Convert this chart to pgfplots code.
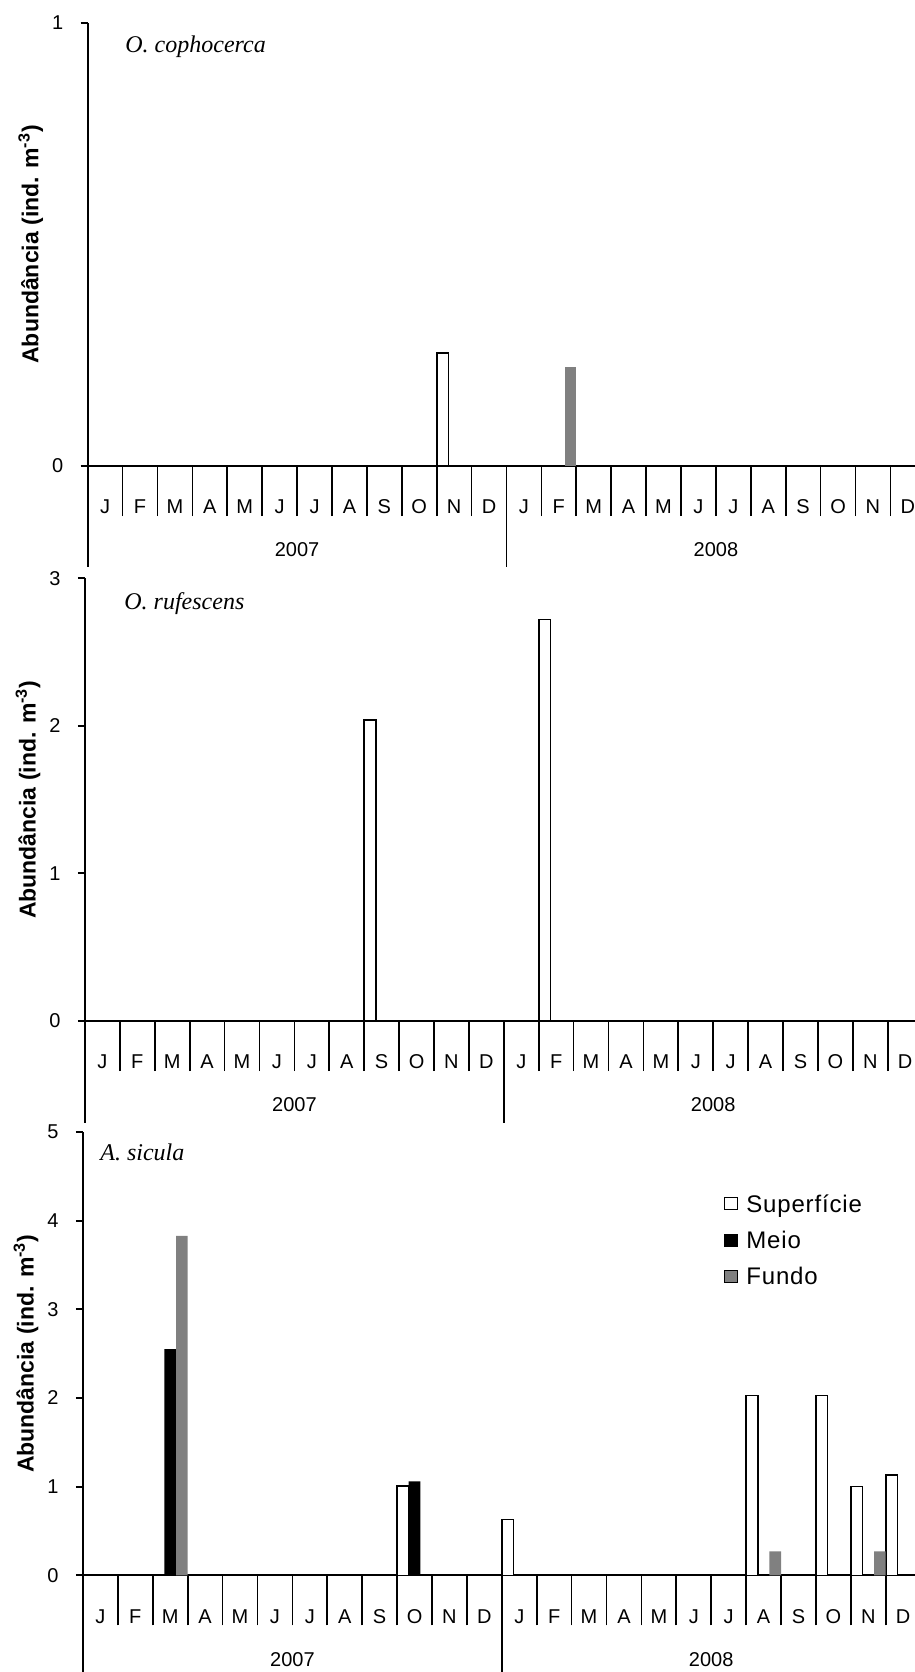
\documentclass[border=0pt]{standalone}
\usepackage{pgfplots}
\pgfplotsset{compat=1.18}
\usepackage{fontspec}
\setmainfont{Liberation Sans}
\newfontfamily\serifit{Liberation Serif}
\newfontfamily\legfont[LetterSpace=3.5]{Liberation Sans}
\definecolor{fundogray}{RGB}{128,128,128}

\tikzset{species/.style={anchor=base west, inner sep=0pt, font=\serifit\itshape\fontsize{12}{14}\selectfont}}

\pgfplotsset{
  panel/.style={
    scale only axis,
    width=418.8pt,
    xmin=-0.5, xmax=23.5, ymin=0,
    clip=false,
    axis x line=bottom, axis y line=left,
    axis line style={-, line width=1pt},
    tick align=outside,
    xtick={0,...,23},
    xticklabels={J,F,M,A,M,J,J,A,S,O,N,D,J,F,M,A,M,J,J,A,S,O,N,D},
    minor xtick={-0.5,0.5,...,23.5},
    every major x tick/.append style={draw=none},
    every minor x tick/.append style={line width=0.85pt, black},
    minor tick length=25pt,
    major tick length=3.5pt,
    every major y tick/.append style={line width=1pt, black},
    extra x ticks={5.5,17.5},
    extra x tick labels={2007,2008},
    extra x tick style={major tick length=0pt, xticklabel style={yshift=-25pt}},
    xticklabel style={anchor=center, inner sep=0pt, yshift=-17pt, font=\fontsize{10}{12}\selectfont},
    yticklabel style={anchor=east, inner sep=0pt, xshift=-8.5pt, font=\fontsize{10}{12}\selectfont},
    /pgf/number format/assume math mode=true,
    ylabel={Abundância (ind. m\textsuperscript{-3})},
    every axis y label/.style={at={(axis description cs:-0.068,0.5)}, rotate=90, anchor=center, font=\fontsize{11.5}{13}\selectfont\bfseries},
  },
  sup/.style={ybar, bar width=0.3333, bar shift=-0.3333, draw=black, fill=white, line width=0.8pt,
    legend image code/.code={\draw[##1,line width=0.6pt] (0pt,-3pt) rectangle (6.5pt,3pt);}},
  mei/.style={ybar, bar width=0.3333, bar shift=0, draw=none, fill=black,
    legend image code/.code={\draw[##1] (0pt,-3pt) rectangle (6.5pt,3pt);}},
  fun/.style={ybar, bar width=0.3333, bar shift=0.3333, draw=none, fill=fundogray,
    legend image code/.code={\draw[##1] (0pt,-3pt) rectangle (6.5pt,3pt);}},
}

\begin{document}
\begin{tikzpicture}
\useasboundingbox (0pt,0pt) rectangle (457.5pt,-836pt);
\begin{scope}
\clip (0pt,0pt) rectangle (457.5pt,-836pt);

% Panel 1: O. cophocerca
\begin{axis}[panel, at={(43.85pt,-233pt)}, anchor=south west, height=221.65pt, ymax=1, ytick={0,1}]
\addplot[sup] coordinates {(10,0.255)};
\addplot[fun] coordinates {(13,0.224)};
\draw[line width=0.85pt] (axis cs:-0.5,0) -- ++(0pt,-50.5pt);
\draw[line width=0.85pt] (axis cs:11.5,0) -- ++(0pt,-50.5pt);
\end{axis}
\node[species] at (62.5pt,-26.35pt) {O. cophocerca};

% Panel 2: O. rufescens
\begin{axis}[panel, at={(42.5pt,-510.5pt)}, anchor=south west, height=221.35pt, ymax=3, ytick={0,1,2,3}]
\addplot[sup] coordinates {(8,2.04) (13,2.72)};
\draw[line width=0.85pt] (axis cs:-0.5,0) -- ++(0pt,-51pt);
\draw[line width=0.85pt] (axis cs:11.5,0) -- ++(0pt,-51pt);
\end{axis}
\node[species] at (62pt,-304.5pt) {O. rufescens};

% Panel 3: A. sicula
\begin{axis}[panel, at={(41.5pt,-787.65pt)}, anchor=south west, height=221.65pt, ymax=5, ytick={0,1,2,3,4,5},
  legend style={at={(rel axis cs:0.765,0.865)}, anchor=north west, draw=none, fill=none, inner sep=0pt,
    row sep=6.55pt, column sep=4pt, font=\legfont\fontsize{12}{14}\selectfont,
    nodes={inner sep=0pt, text height=10pt, text depth=1.6pt}},
  legend cell align=left]
\addplot[sup] coordinates {(9,1.01) (12,0.63) (19,2.03) (21,2.03) (22,1.0) (23,1.13)};
\addlegendentry{Superfície}
\addplot[mei] coordinates {(2,2.55) (9,1.06)};
\addlegendentry{Meio}
\addplot[fun] coordinates {(2,3.83) (19,0.27) (22,0.27)};
\addlegendentry{Fundo}
\draw[line width=0.85pt] (axis cs:-0.5,0) -- ++(0pt,-52pt);
\draw[line width=0.85pt] (axis cs:11.5,0) -- ++(0pt,-52pt);
\end{axis}
\node[species] at (50pt,-580.35pt) {A. sicula};
\end{scope}
\end{tikzpicture}
\end{document}
